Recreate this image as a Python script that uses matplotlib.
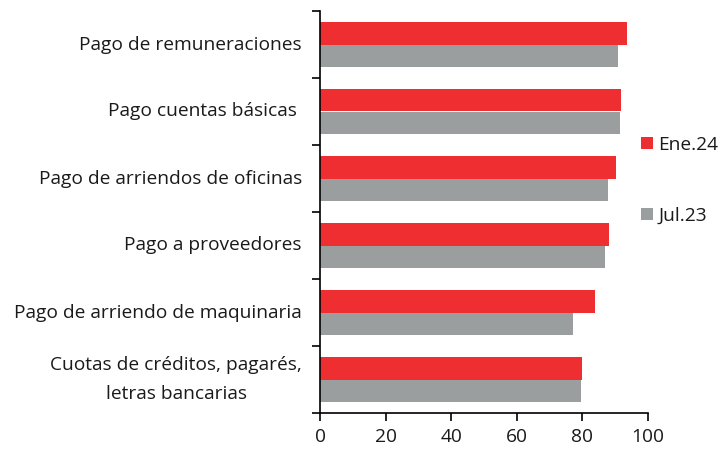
import matplotlib.pyplot as plt
from matplotlib.ticker import FixedLocator
import numpy as np

plt.rcParams['font.family'] = ['Open Sans', 'DejaVu Sans']

categorias = ['Pago de remuneraciones', 'Pago cuentas básicas ',
              'Pago de arriendos de oficinas', 'Pago a proveedores',
              'Pago de arriendo de maquinaria',
              'Cuotas de créditos, pagarés,\nletras bancarias']
ene24 = [93.7, 91.9, 90.1, 88.1, 83.7, 79.8]
jul23 = [91.0, 91.6, 87.8, 87.0, 77.0, 79.6]

RED = '#EE2E30'
GRAY = '#9B9E9E'
FS = 13.8

fig = plt.figure(figsize=(7.26, 4.51), dpi=100)
ax = fig.add_axes([320 / 726, 1 - 413 / 451, 328 / 726, 402 / 451])

y = np.arange(len(categorias))
h = 0.34
ax.barh(y - h / 2, ene24, height=h, color=RED, label='Ene.24')
ax.barh(y + h / 2, jul23, height=h, color=GRAY, label='Jul.23')

ax.set_ylim(len(categorias) - 0.5, -0.5)
ax.set_xlim(0, 100)
ax.set_xticks(range(0, 101, 20))
ax.set_yticks(y)
ax.set_yticklabels(categorias, fontsize=FS, color='#1a1a1a')
for t in ax.get_yticklabels():
    t.set_linespacing(1.75)
    t.set_multialignment('center')
    t.set_verticalalignment('center')
ax.yaxis.set_minor_locator(FixedLocator(np.arange(-0.5, len(categorias), 1)))
ax.tick_params(axis='y', which='major', length=0, pad=13)
ax.tick_params(axis='y', which='minor', length=6, width=1.2, direction='out')
ax.tick_params(axis='x', length=6, width=1.2, direction='out', labelsize=FS,
               labelcolor='#1a1a1a', pad=5)
for s in ['top', 'right']:
    ax.spines[s].set_visible(False)
for s in ['left', 'bottom']:
    ax.spines[s].set_linewidth(1.2)

leg = fig.legend(loc='upper left', bbox_to_anchor=(641 / 726, 1 - 136 / 451),
                 frameon=False, fontsize=FS, handlelength=0.6, handleheight=0.6,
                 handletextpad=0.3, labelspacing=2.75, borderaxespad=0,
                 borderpad=0)
for t in leg.get_texts():
    t.set_color('#1a1a1a')

fig.savefig('out.png', dpi=100, facecolor='white')
